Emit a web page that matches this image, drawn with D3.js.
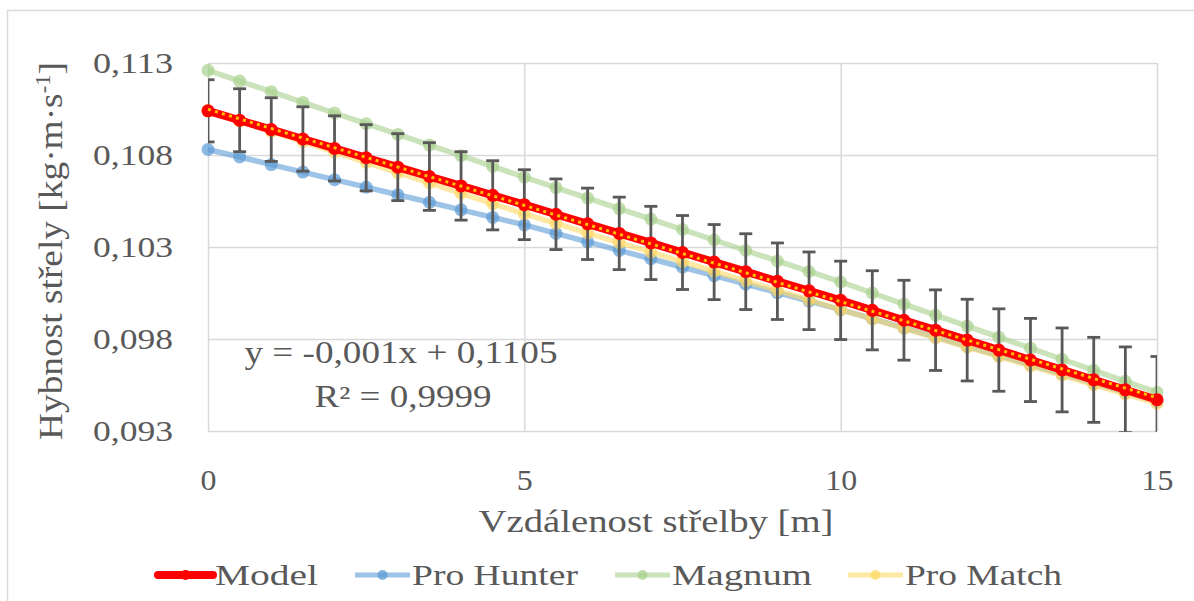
<!DOCTYPE html>
<html lang="cs">
<head>
<meta charset="UTF-8">
<title>Hybnost střely</title>
<script src="https://d3js.org/d3.v7.min.js"></script>
<style>
    body { margin: 0; background: #fff; }
    svg { display: block; }
    text { font-family: "Liberation Serif", "Times New Roman", serif; fill: #595959; }
    .grid line { stroke: #d9d9d9; stroke-width: 1.5; }
</style>
</head>
<body>
<svg id="chart"></svg>
<script>
// distance [m]
const distances = [0, 0.5, 1, 1.5, 2, 2.5, 3, 3.5, 4, 4.5, 5, 5.5, 6, 6.5, 7, 7.5, 8, 8.5, 9, 9.5, 10,
    10.5, 11, 11.5, 12, 12.5, 13, 13.5, 14, 14.5, 15];

const model = [0.11040, 0.10989, 0.10938, 0.10887, 0.10836, 0.10785, 0.10734, 0.10683, 0.10632, 0.10581,
    0.10530, 0.10478, 0.10426, 0.10374, 0.10322, 0.10270, 0.10218, 0.10166, 0.10114, 0.10062,
    0.10010, 0.09956, 0.09902, 0.09848, 0.09794, 0.09740, 0.09686, 0.09632, 0.09578, 0.09524, 0.09470];

const modelErr = [0.00169, 0.00171, 0.00173, 0.00175, 0.00177, 0.00180, 0.00182, 0.00184, 0.00186, 0.00188,
    0.00190, 0.00192, 0.00194, 0.00197, 0.00199, 0.00201, 0.00204, 0.00206, 0.00208, 0.00211,
    0.00213, 0.00215, 0.00217, 0.00219, 0.00222, 0.00224, 0.00226, 0.00228, 0.00231, 0.00233, 0.00235];

const proHunter = [0.10830, 0.10789, 0.10748, 0.10707, 0.10666, 0.10625, 0.10584, 0.10543, 0.10502, 0.10461,
    0.10420, 0.10374, 0.10328, 0.10282, 0.10236, 0.10190, 0.10144, 0.10098, 0.10052, 0.10006,
    0.09960, 0.09910, 0.09860, 0.09810, 0.09760, 0.09710, 0.09660, 0.09610, 0.09560, 0.09510, 0.09460];

const magnum = [0.11260, 0.11202, 0.11144, 0.11086, 0.11028, 0.10970, 0.10912, 0.10854, 0.10796, 0.10738,
    0.10680, 0.10623, 0.10566, 0.10509, 0.10452, 0.10395, 0.10338, 0.10281, 0.10224, 0.10167,
    0.10110, 0.10050, 0.09990, 0.09930, 0.09870, 0.09810, 0.09750, 0.09690, 0.09630, 0.09570, 0.09510];

const proMatch = [0.11040, 0.10984, 0.10928, 0.10872, 0.10816, 0.10760, 0.10704, 0.10648, 0.10592, 0.10536,
    0.10480, 0.10428, 0.10376, 0.10324, 0.10272, 0.10220, 0.10168, 0.10116, 0.10064, 0.10012,
    0.09960, 0.09909, 0.09858, 0.09807, 0.09756, 0.09705, 0.09654, 0.09603, 0.09552, 0.09501, 0.09450];

const yTicks = [0.093, 0.098, 0.103, 0.108, 0.113];
const xTicks = [0, 5, 10, 15];
const legendNames = ["Model", "Pro Hunter", "Magnum", "Pro Match"];
const trendLabel = "y = -0,001x + 0,1105";
const r2Label = "R² = 0,9999";

const W = 1194, H = 601;
const margin = { top: 63, right: 37, bottom: 170, left: 208 };
const width = W - margin.left - margin.right;
const height = H - margin.top - margin.bottom;

const svg = d3.select("#chart").attr("width", W).attr("height", H);

// outer chart border (only left and top edges fall inside the picture)
svg.append("path")
    .attr("d", "M7.5,601 V10.5 H1194")
    .attr("fill", "none")
    .attr("stroke", "#d9d9d9")
    .attr("stroke-width", 1.5);

const plot = svg.append("g")
    .attr("transform", "translate(" + margin.left + "," + margin.top + ")");

const x = d3.scaleLinear().domain([0, 15]).range([0, width]);
const y = d3.scaleLinear().domain([0.093, 0.113]).range([height, 0]);
const fmt = v => d3.format(".3f")(v).replace(".", ",");

// the reference text is a bit wider than Liberation Serif
function fitWidth(sel, target) {
    sel.attr("textLength", target).attr("lengthAdjust", "spacingAndGlyphs");
}
function stretch(sel, k) {
    fitWidth(sel, sel.node().getComputedTextLength() * k);
}

// axes with gridlines
const yAxis = plot.append("g")
    .attr("class", "grid")
    .call(d3.axisLeft(y).tickValues(yTicks).tickSize(-width).tickPadding(35).tickFormat(fmt));
yAxis.select(".domain").remove();
yAxis.selectAll("text").attr("font-size", 29).attr("fill", "#595959")
    .each(function() { fitWidth(d3.select(this), 80); });

const xAxis = plot.append("g")
    .attr("class", "grid")
    .attr("transform", "translate(0," + height + ")")
    .call(d3.axisBottom(x).tickValues(xTicks).tickSize(-height).tickPadding(38));
xAxis.select(".domain").remove();
xAxis.selectAll("text").attr("font-size", 29).attr("fill", "#595959")
    .each(function() { stretch(d3.select(this), 1.1); });

// series lines + markers
const series = [
    { name: "Pro Hunter", values: proHunter, color: "#5B9BD5" },
    { name: "Magnum", values: magnum, color: "#A9D18E" },
    { name: "Pro Match", values: proMatch, color: "#FFD966" }
];

const line = d3.line()
    .x((d, i) => x(distances[i]))
    .y(d => y(d));

series.forEach(s => {
    const g = plot.append("g");
    g.append("path")
        .datum(s.values)
        .attr("fill", "none")
        .attr("stroke", s.color)
        .attr("stroke-opacity", 0.6)
        .attr("stroke-width", 5.5)
        .attr("d", line);
    g.selectAll("circle")
        .data(s.values)
        .enter().append("circle")
        .attr("cx", (d, i) => x(distances[i]))
        .attr("cy", d => y(d))
        .attr("r", 6.5)
        .attr("fill", s.color)
        .attr("fill-opacity", 0.7);
});

// error bars of the model
svg.append("clipPath").attr("id", "plot-clip")
    .append("rect").attr("width", width).attr("height", height + 1);

const errG = plot.append("g").attr("clip-path", "url(#plot-clip)")
    .attr("stroke", "#595959").attr("stroke-width", 2.8);
distances.forEach((dx, i) => {
    const cx = x(dx);
    const top = y(model[i] + modelErr[i]);
    const bot = y(model[i] - modelErr[i]);
    errG.append("line").attr("x1", cx).attr("x2", cx).attr("y1", top).attr("y2", bot);
    errG.append("line").attr("x1", cx - 6.5).attr("x2", cx + 6.5).attr("y1", top).attr("y2", top);
    errG.append("line").attr("x1", cx - 6.5).attr("x2", cx + 6.5).attr("y1", bot).attr("y2", bot);
});

// model line
plot.append("path")
    .datum(model)
    .attr("fill", "none")
    .attr("stroke", "#FF0000")
    .attr("stroke-width", 8)
    .attr("d", line);
plot.selectAll(".model-dot")
    .data(model)
    .enter().append("circle")
    .attr("class", "model-dot")
    .attr("cx", (d, i) => x(distances[i]))
    .attr("cy", d => y(d))
    .attr("r", 6.5)
    .attr("fill", "#FF0000");

// linear trendline of the model (least squares)
const mx = d3.mean(distances), my = d3.mean(model);
const slope = d3.sum(distances, (d, i) => (d - mx) * (model[i] - my)) / d3.sum(distances, d => (d - mx) * (d - mx));
const icpt = my - slope * mx;
plot.append("line")
    .attr("x1", x(0)).attr("y1", y(icpt))
    .attr("x2", x(15)).attr("y2", y(icpt + slope * 15))
    .attr("stroke", "#FFC000")
    .attr("stroke-width", 3)
    .attr("stroke-dasharray", "3,4.3");

// trendline equation
const eq = svg.append("text").attr("x", 401).attr("y", 363)
    .attr("text-anchor", "middle").attr("font-size", 31).text(trendLabel);
fitWidth(eq, 313);
const r2 = svg.append("text").attr("x", 403).attr("y", 407)
    .attr("text-anchor", "middle").attr("font-size", 31).text(r2Label);
fitWidth(r2, 177);

// axis titles
const xt = svg.append("text").attr("x", 656).attr("y", 532)
    .attr("text-anchor", "middle").attr("font-size", 31).text("Vzdálenost střelby [m]");
fitWidth(xt, 355);

const yt = svg.append("text")
    .attr("text-anchor", "middle")
    .attr("font-size", 33);
yt.append("tspan").text("Hybnost střely [kg·m·s");
yt.append("tspan").attr("font-size", 20).attr("dy", -12).text("-1");
yt.append("tspan").attr("dy", 12).text("]");
const ytLen = yt.node().getComputedTextLength();
yt.attr("transform", "translate(62,251) rotate(-90) scale(" + (378 / ytLen) + ",1)");

// legend
const legendX = [158, 355, 615, 848];
const legendColors = ["#FF0000", "#5B9BD5", "#A9D18E", "#FFD966"];
const legendTextW = [103, 166, 140, 157];
const legend = svg.append("g").attr("transform", "translate(0,575)");
legendNames.forEach((name, i) => {
    const g = legend.append("g").attr("transform", "translate(" + legendX[i] + ",0)");
    g.append("line").attr("x1", 0).attr("x2", 55).attr("y1", 0).attr("y2", 0)
        .attr("stroke", legendColors[i])
        .attr("stroke-width", i === 0 ? 8 : 5)
        .attr("stroke-linecap", i === 0 ? "round" : "butt")
        .attr("stroke-opacity", i === 0 ? 1 : 0.6);
    g.append("circle").attr("cx", 27.5).attr("cy", 0).attr("r", 5)
        .attr("fill", legendColors[i]).attr("fill-opacity", i === 0 ? 1 : 0.75);
    const t = g.append("text").attr("x", 57).attr("y", 10).attr("font-size", 30).text(name);
    fitWidth(t, legendTextW[i]);
});
</script>
</body>
</html>
